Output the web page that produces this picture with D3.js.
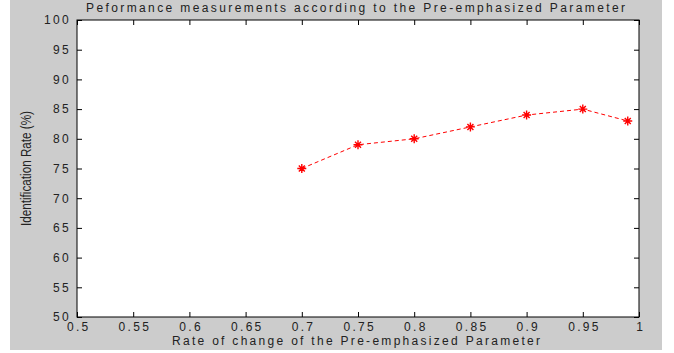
<!DOCTYPE html>
<html>
<head>
<meta charset="utf-8">
<script src="https://cdn.jsdelivr.net/npm/d3@7"></script>
<style>
  body { margin: 0; background: #fff; }
  text { font-family: "Liberation Sans", Arial, sans-serif; fill: #222; }
</style>
</head>
<body>
<svg id="chart" width="674" height="353"></svg>
<script>
const rates = [0.7, 0.75, 0.8, 0.85, 0.9, 0.95, 0.99];
const identRate = [75, 79, 80, 82, 84, 85, 83];
const xTicks = [0.5, 0.55, 0.6, 0.65, 0.7, 0.75, 0.8, 0.85, 0.9, 0.95, 1];
const yTicks = [50, 55, 60, 65, 70, 75, 80, 85, 90, 95, 100];

const svg = d3.select("#chart");
const pLeft = 77, pRight = 639, pTop = 20, pBottom = 317;

// grey figure background
svg.append("rect")
  .attr("x", 10).attr("y", 0)
  .attr("width", 652).attr("height", 350)
  .attr("fill", "#cccccc");

svg.append("rect")
  .attr("x", pLeft).attr("y", pTop)
  .attr("width", pRight - pLeft).attr("height", pBottom - pTop)
  .attr("fill", "#fff");

const x = d3.scaleLinear().domain([0.5, 1]).range([pLeft, pRight]);
const y = d3.scaleLinear().domain([50, 100]).range([pBottom, pTop]);

const fmt = d => String(d);

const styleAxis = g => {
  g.select(".domain").remove();
  g.selectAll("line").attr("stroke", "#000");
  g.selectAll("text")
    .style("font-size", "12px")
    .style("letter-spacing", "2.3px")
    .attr("fill", "#222");
};

svg.append("g")
  .attr("transform", `translate(0,${pBottom})`)
  .call(d3.axisBottom(x).tickValues(xTicks).tickFormat(fmt).tickSizeInner(-5).tickSizeOuter(0).tickPadding(5))
  .call(styleAxis)
  .selectAll("text").attr("dx", "1.2px");
svg.append("g")
  .attr("transform", `translate(0,${pTop})`)
  .call(d3.axisTop(x).tickValues(xTicks).tickFormat("").tickSizeInner(-5).tickSizeOuter(0))
  .call(styleAxis);
svg.append("g")
  .attr("transform", `translate(${pLeft},0)`)
  .call(d3.axisLeft(y).tickValues(yTicks).tickFormat(fmt).tickSizeInner(-5).tickSizeOuter(0).tickPadding(6))
  .call(styleAxis);
svg.append("g")
  .attr("transform", `translate(${pRight},0)`)
  .call(d3.axisRight(y).tickValues(yTicks).tickFormat("").tickSizeInner(-5).tickSizeOuter(0))
  .call(styleAxis);

// box
svg.append("rect")
  .attr("x", pLeft).attr("y", pTop)
  .attr("width", pRight - pLeft).attr("height", pBottom - pTop)
  .attr("fill", "none").attr("stroke", "#000").attr("stroke-width", 1);

const pts = rates.map((r, i) => [r, identRate[i]]);

svg.append("path")
  .datum(pts)
  .attr("fill", "none")
  .attr("stroke", "#ff0000")
  .attr("stroke-width", 1)
  .attr("stroke-dasharray", "4,3")
  .attr("d", d3.line().x(d => x(d[0])).y(d => y(d[1])));

const mk = svg.append("g").selectAll("g").data(pts).join("g")
  .attr("transform", d => `translate(${x(d[0])},${y(d[1])})`);
mk.append("path").attr("d", "M-4.5,0H4.5M0,-4.5V4.5M-3,-3L3,3M-3,3L3,-3")
  .attr("stroke", "#ff0000").attr("stroke-width", 1.4);

svg.append("text")
  .attr("x", 86).attr("y", 12)
  .attr("textLength", 539).attr("lengthAdjust", "spacing")
  .style("font-size", "12px")
  .text("Peformance measurements according to the Pre-emphasized Parameter");

svg.append("text")
  .attr("x", 172).attr("y", 345)
  .attr("textLength", 368).attr("lengthAdjust", "spacing")
  .style("font-size", "12px")
  .text("Rate of change of the Pre-emphasized Parameter");

svg.append("text")
  .attr("transform", `translate(31,${(pTop + pBottom) / 2}) rotate(-90)`)
  .attr("x", -57.5)
  .attr("textLength", 115).attr("lengthAdjust", "spacingAndGlyphs")
  .style("font-size", "14px")
  .text("Identification Rate (%)");
</script>
</body>
</html>
